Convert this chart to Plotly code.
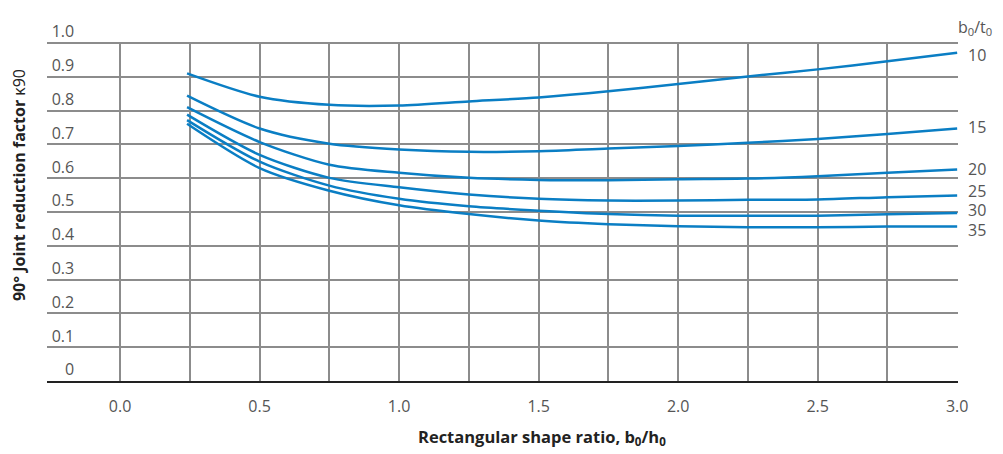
import plotly.graph_objects as go

# rectangular shape ratio b0/h0
ratio = [0.24, 0.5, 0.75, 1.0, 1.25, 1.5, 1.75, 2.0, 2.25, 2.5, 2.75, 3.0]

# b0/t0 series -> joint reduction factor k90
series_names = ['10', '15', '20', '25', '30', '35']
k90_10 = [0.910, 0.841, 0.817, 0.815, 0.827, 0.839, 0.857, 0.879, 0.901, 0.922, 0.946, 0.971]
k90_15 = [0.844, 0.747, 0.702, 0.685, 0.678, 0.680, 0.688, 0.695, 0.705, 0.716, 0.731, 0.747]
k90_20 = [0.810, 0.707, 0.640, 0.616, 0.601, 0.595, 0.594, 0.597, 0.599, 0.606, 0.616, 0.626]
k90_25 = [0.788, 0.669, 0.601, 0.573, 0.552, 0.539, 0.534, 0.534, 0.536, 0.537, 0.544, 0.549]
k90_30 = [0.772, 0.649, 0.578, 0.539, 0.517, 0.504, 0.494, 0.489, 0.489, 0.489, 0.493, 0.497]
k90_35 = [0.761, 0.630, 0.563, 0.520, 0.494, 0.475, 0.464, 0.458, 0.455, 0.455, 0.457, 0.457]
series_values = [k90_10, k90_15, k90_20, k90_25, k90_30, k90_35]

x_tickvals = [0, 0.25, 0.5, 0.75, 1.0, 1.25, 1.5, 1.75, 2.0, 2.25, 2.5, 2.75, 3.0]
x_ticktext = ['0.0', '', '0.5', '', '1.0', '', '1.5', '', '2.0', '', '2.5', '', '3.0']
y_tickvals = [0, 0.1, 0.2, 0.3, 0.4, 0.5, 0.6, 0.7, 0.8, 0.9, 1.0]
y_ticktext = ['0', '0.1', '0.2', '0.3', '0.4', '0.5', '0.6', '0.7', '0.8', '0.9', '1.0']

blue = '#0a7ec4'
grid = '#8c8c8c'
label_font = dict(family='Open Sans', size=16, color='#555555')
title_font = dict(family='Open Sans', size=16.5, color='#222222')

# small nudges so the end labels do not collide
label_yshift = {'10': -2, '15': 2, '20': 0, '25': 4, '30': 3, '35': -3}

fig = go.Figure()
for name, vals in zip(series_names, series_values):
    fig.add_trace(go.Scatter(
        x=ratio,
        y=vals,
        mode='lines',
        name=name,
        line=dict(color=blue, width=2.5, shape='spline', smoothing=0.8),
        showlegend=False
    ))
    fig.add_annotation(
        x=1, xref='paper',
        y=vals[-1], yref='y',
        text=name,
        showarrow=False,
        xanchor='left',
        xshift=8,
        yshift=label_yshift[name],
        font=label_font
    )

fig.add_annotation(
    x=1, xref='paper', y=1, yref='paper',
    text='b<sub>0</sub>/t<sub>0</sub>',
    showarrow=False, xanchor='left', yanchor='bottom',
    xshift=-2, yshift=1,
    font=label_font
)
fig.add_annotation(
    x=0.543, xref='paper', y=0, yref='paper',
    text='<b>Rectangular shape ratio, b<sub>0</sub>/h<sub>0</sub></b>',
    showarrow=False, xanchor='center', yanchor='middle',
    yshift=-56,
    font=title_font
)
fig.add_annotation(
    x=0, xref='paper', y=0.578, yref='paper',
    text='<b>90° Joint reduction factor</b> κ90',
    textangle=-90,
    showarrow=False, xanchor='center', yanchor='middle',
    xshift=-28,
    font=dict(family='Open Sans', size=16, color='#222222')
)

# page body adds an 8px margin, so the figure is 8px smaller than the window
fig.update_layout(
    width=995,
    height=446,
    margin=dict(l=39, r=45, t=25, b=73),
    plot_bgcolor='white',
    paper_bgcolor='white',
    font=label_font
)

fig.update_xaxes(
    range=[-0.262, 3.003],
    tickvals=x_tickvals,
    ticktext=x_ticktext,
    showgrid=True,
    gridcolor=grid,
    gridwidth=1.5,
    zeroline=False,
    showline=True,
    linecolor='#222222',
    linewidth=2,
    ticks='',
    ticklabelstandoff=10,
    tickfont=label_font
)

fig.update_yaxes(
    range=[0, 1.003],
    tickvals=y_tickvals,
    ticktext=y_ticktext,
    showgrid=True,
    gridcolor=grid,
    gridwidth=1.5,
    zeroline=False,
    showline=False,
    ticks='',
    anchor='free',
    position=0.032,
    ticklabelposition='outside top',
    ticklabelstandoff=2,
    tickfont=label_font
)

fig.write_html('out.html')
